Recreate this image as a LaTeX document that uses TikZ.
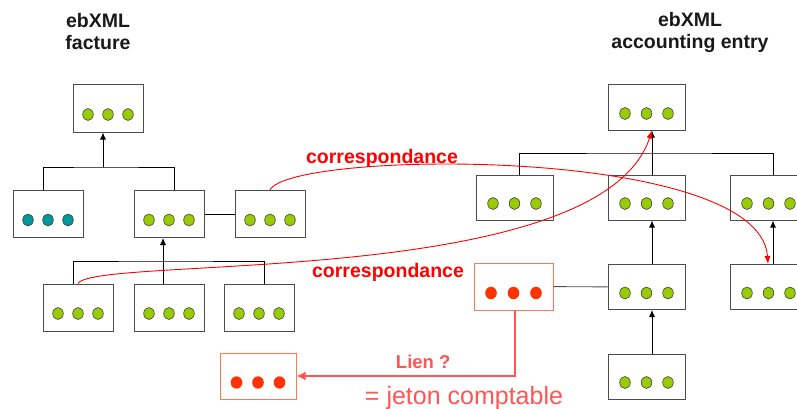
\documentclass[tikz,border=0pt]{standalone}
\usepackage{fontspec}
\setmainfont{Liberation Sans}
\usetikzlibrary{arrows.meta, positioning}
\definecolor{leaf}{HTML}{99CC00}
\definecolor{sea}{HTML}{009999}
\definecolor{token}{HTML}{FF3300}
\definecolor{tokenline}{HTML}{FF7755}
\definecolor{linkred}{HTML}{FF5555}
\tikzset{
    elem/.style={
      draw=black!70, %box border
      line width=1pt,
      fill=white,
      minimum width=70pt,
      minimum height=47pt,
      inner sep=0pt,
    },
    elemr/.style={elem, minimum width=77pt, minimum height=45pt},
    tokenbox/.style={
      draw=tokenline,
      line width=1pt,
      fill=white,
      inner sep=0pt,
    },
    wire/.style={draw=black, line width=0.9pt},
    corr/.style={draw=red, line width=0.9pt, >={Latex[length=8pt,width=6pt]}},
    link/.style={draw=linkred, line width=2.6pt, ->, >={Latex[length=9pt,width=9pt]}},
    title/.style={font=\fontsize{19.5}{22}\selectfont\bfseries, align=center, text=black!90},
    corrtext/.style={font=\fontsize{19.5}{22}\selectfont\bfseries, text=red},
  }
% three dots inside a box: node, fill colour, spacing
\newcommand{\threedots}[3]{%
  \foreach \dx in {-1,0,1}
    \filldraw[fill=#2, draw=black!75, line width=0.6pt]
      ([xshift=\dx*#3, yshift=-6pt]#1.center) ellipse [x radius=5.3pt, y radius=6pt];
}
\newcommand{\tokendots}[2]{%
  \foreach \dx in {-1,0,1}
    \fill[token] ([xshift=\dx*#2, yshift=-6.5pt]#1.center) ellipse [x radius=5.8pt, y radius=6.2pt];
}

\begin{document}
\begin{tikzpicture}[x=1pt, y=-1pt, >={Latex[length=7pt,width=6pt]}]
  \useasboundingbox (0,0) rectangle (797,409);

  \node[title] (tf) at (98,32) {ebXML\\facture};
  \node[title] (ta) at (690,33) {ebXML\\accounting entry};

  % facture tree
  \node[elem] (f0) at (108,108.5) {};
  \node[elem] (f1) at (48,214) {};
  \node[elem, right=50pt of f1] (f2) {};
  \node[elem, right=30pt of f2] (f3) {};
  \node[elem] (f4) at (78,307.5) {};
  \node[elem, right=20pt of f4] (f5) {};
  \node[elem, right=19pt of f5] (f6) {};

  \coordinate (b1) at (103,167);
  \coordinate (b2) at (163,261);
  \draw[wire] ([xshift=-5pt]f1.north) |- (b1) -| ([xshift=5pt]f2.north);
  \draw[wire, ->] (b1) -- (b1 |- f0.south);
  \draw[wire] (f2) -- (f3);
  \draw[wire] ([xshift=-5pt]f4.north) |- (b2) -| ([xshift=5.5pt]f6.north);
  \draw[wire, ->] (f5.north -| b2) -- (b2 |- f2.south);

  % accounting entry tree
  \node[elemr] (a0) at (646.5,107.5) {};
  \node[elemr] (a2) at (646.5,197.5) {};
  \node[elemr, left=54pt of a2] (a1) {};
  \node[elemr, right=44pt of a2] (a3) {};
  \node[elemr] (a4) at (646.5,287) {};
  \node[elemr, right=44pt of a4] (a5) {};
  \node[elemr] (a6) at (646.5,376.5) {};

  \coordinate (b3) at (652,153);
  \draw[wire] ([xshift=5pt]a1.north) |- (b3) -| ([xshift=4.5pt]a3.north);
  \draw[wire, ->] ([xshift=5.5pt]a2.north) -- ([xshift=5.5pt]a0.south);
  \draw[wire, ->] ([xshift=5.5pt]a4.north) -- ([xshift=5.5pt]a2.south);
  \draw[wire, ->] ([xshift=5.5pt]a6.north) -- ([xshift=5.5pt]a4.south);
  \draw[wire, ->] ([xshift=4.5pt]a5.north) -- ([xshift=4.5pt]a3.south);

  % jetons
  \node[tokenbox, minimum width=79pt, minimum height=47pt] (j1) at (513.5,286.5) {};
  \node[tokenbox, minimum width=76pt, minimum height=46pt] (j2) at (258,376) {};
  \draw[wire, draw=black!70] (j1) -- (a4);
  \draw[link] ([xshift=1.5pt]j1.south) |- (j2.east)
    node[pos=0.71, above=3pt, font=\fontsize{18.5}{22}\selectfont\bfseries, text=linkred] {Lien ?};
  \node[font=\fontsize{25}{28}\selectfont, text=linkred] (jt) at (464,398) {= jeton comptable};

  % dots
  \foreach \n in {f0,f2,f3,f4,f5,f6} {\threedots{\n}{leaf}{20pt}}
  \threedots{f1}{sea}{20pt}
  \foreach \n in {a0,a1,a2,a3,a4,a5,a6} {\threedots{\n}{leaf}{21.5pt}}
  \tokendots{j1}{22.5pt}
  \tokendots{j2}{21.5pt}

  % correspondances
  \draw[corr, ->] (f3.north) .. controls (290,150) and (760,145) .. ([xshift=-0.5pt]a5.north);
  \draw[corr, ->] (f4.north) .. controls (95,255) and (600,290) .. ([xshift=5.5pt]a0.south);
  \node[corrtext] (c1) at (382,158) {correspondance};
  \node[corrtext] (c2) at (388,272) {correspondance};
\end{tikzpicture}
\end{document}
